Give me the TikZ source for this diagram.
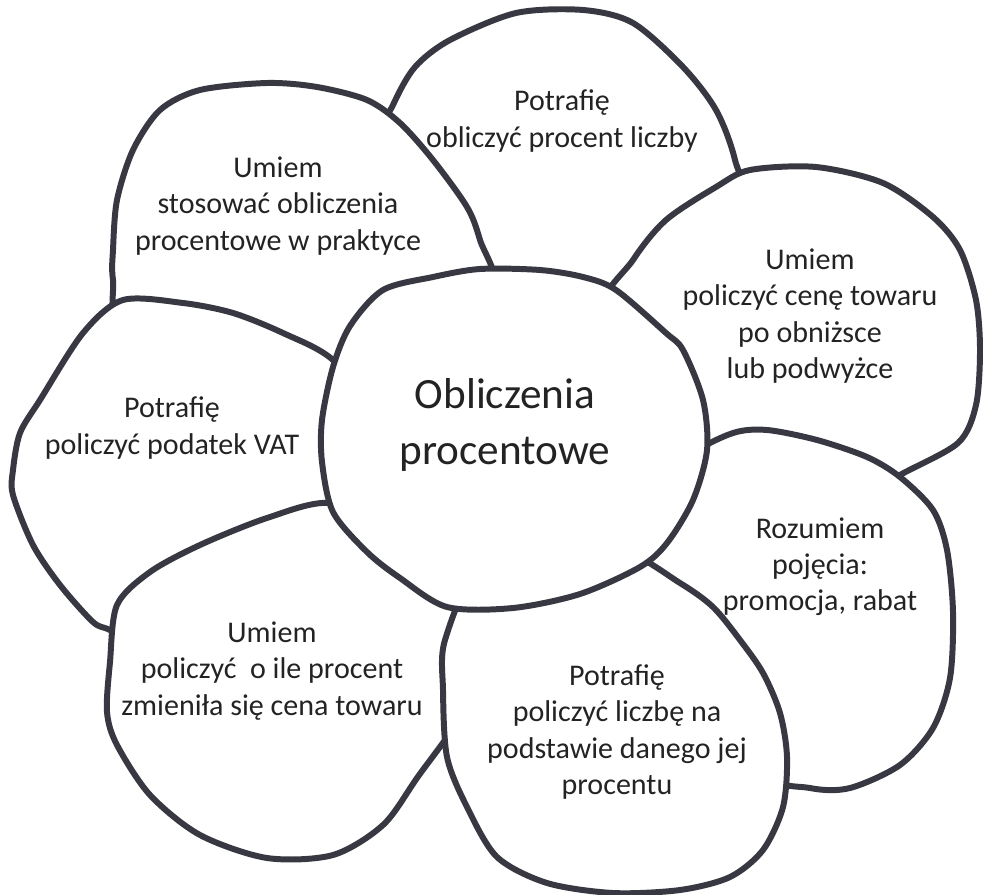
\documentclass[tikz,border=0pt]{standalone}
\usepackage{fontspec}
\setmainfont{Carlito}
\definecolor{petalline}{RGB}{56,56,66}
\definecolor{textgray}{RGB}{35,35,35}

\begin{document}
\begin{tikzpicture}[x=0.02cm, y=-0.02cm,
  petal/.style={fill=white, draw=petalline, line width=3.4pt, line join=round},
  skill/.style={align=center, text=textgray, font=\fontsize{17.1}{20.6}\selectfont},
  topic/.style={align=center, text=textgray, font=\fontsize{24.6}{32}\selectfont}]
\useasboundingbox (0,0) rectangle (983,895);
\fill[white] (0,0) rectangle (983,895);
% petals from the back to the front
\draw[petal] plot[smooth cycle] coordinates {(372,160) (393,105) (415,67) (450,40) (516,13) (583,10) (633,23) (683,67) (716,110) (735,160) (745,230) (640,330) (520,330) (430,260)};
\draw[petal] plot[smooth cycle] coordinates {(633,260) (666,220) (716,187) (750,170) (816,167) (883,183) (933,217) (960,250) (976,300) (980,350) (976,405) (958,443) (900,475) (860,500) (750,470) (680,420) (600,320)};
\draw[petal] plot[smooth cycle] coordinates {(690,455) (733,433) (767,430) (817,440) (867,457) (900,477) (933,510) (947,550) (953,612) (950,678) (933,728) (900,765) (850,788) (810,788) (760,770) (700,650) (620,590) (640,500)};
\draw[petal] plot[smooth cycle] coordinates {(125,340) (113,280) (113,250) (117,200) (133,150) (160,110) (200,90) (267,83) (317,87) (367,100) (400,123) (433,160) (467,207) (480,240) (495,300) (420,380) (250,370)};
\draw[petal] plot[smooth cycle] coordinates {(123,300) (183,303) (233,313) (283,333) (333,360) (380,420) (380,470) (300,560) (150,650) (110,630) (93,622) (60,585) (33,545) (13,495) (13,470) (20,433) (40,400) (83,333)};
\draw[petal] plot[smooth cycle] coordinates {(117,605) (150,572) (200,545) (267,518) (330,503) (400,530) (470,640) (470,700) (417,778) (383,825) (333,855) (267,858) (200,835) (150,795) (117,745) (107,712) (110,662)};
\draw[petal] plot[smooth cycle] coordinates {(480,570) (560,570) (620,550) (680,583) (713,607) (740,640) (763,673) (780,713) (787,757) (783,807) (763,850) (730,877) (680,890) (613,893) (547,883) (497,857) (467,807) (447,757) (443,690) (445,640)};
% centre circle on top
\draw[petal] plot[smooth cycle] coordinates {(480,269) (433,277) (383,290) (350,326) (333,367) (322,420) (322,462) (333,512) (367,552) (400,578) (447,607) (513,608) (580,594) (640,567) (667,543) (693,500) (707,450) (703,400) (683,350) (666,333) (616,290) (583,277) (540,270)};

\node[topic] (core) at (505,425) {Obliczenia\\procentowe};
\node[skill] (top) at (562,121) {Potrafię\\obliczyć procent liczby};
\node[skill] (topleft) at (278,206) {Umiem\\stosować obliczenia\\procentowe w praktyce};
\node[skill] (right) at (810,316) {Umiem\\policzyć cenę towaru\\po obniżsce\\lub podwyżce};
\node[skill] (rightlow) at (820,567) {Rozumiem\\pojęcia:\\promocja, rabat};
\node[skill] (bottom) at (617,732) {Potrafię\\policzyć liczbę na\\podstawie danego jej\\procentu};
\node[skill] (bottomleft) at (272,671) {Umiem\\policzyć\ \ o ile procent\\zmieniła się cena towaru};
\node[skill] (left) at (172,428) {Potrafię\\policzyć podatek VAT};
\end{tikzpicture}
\end{document}
